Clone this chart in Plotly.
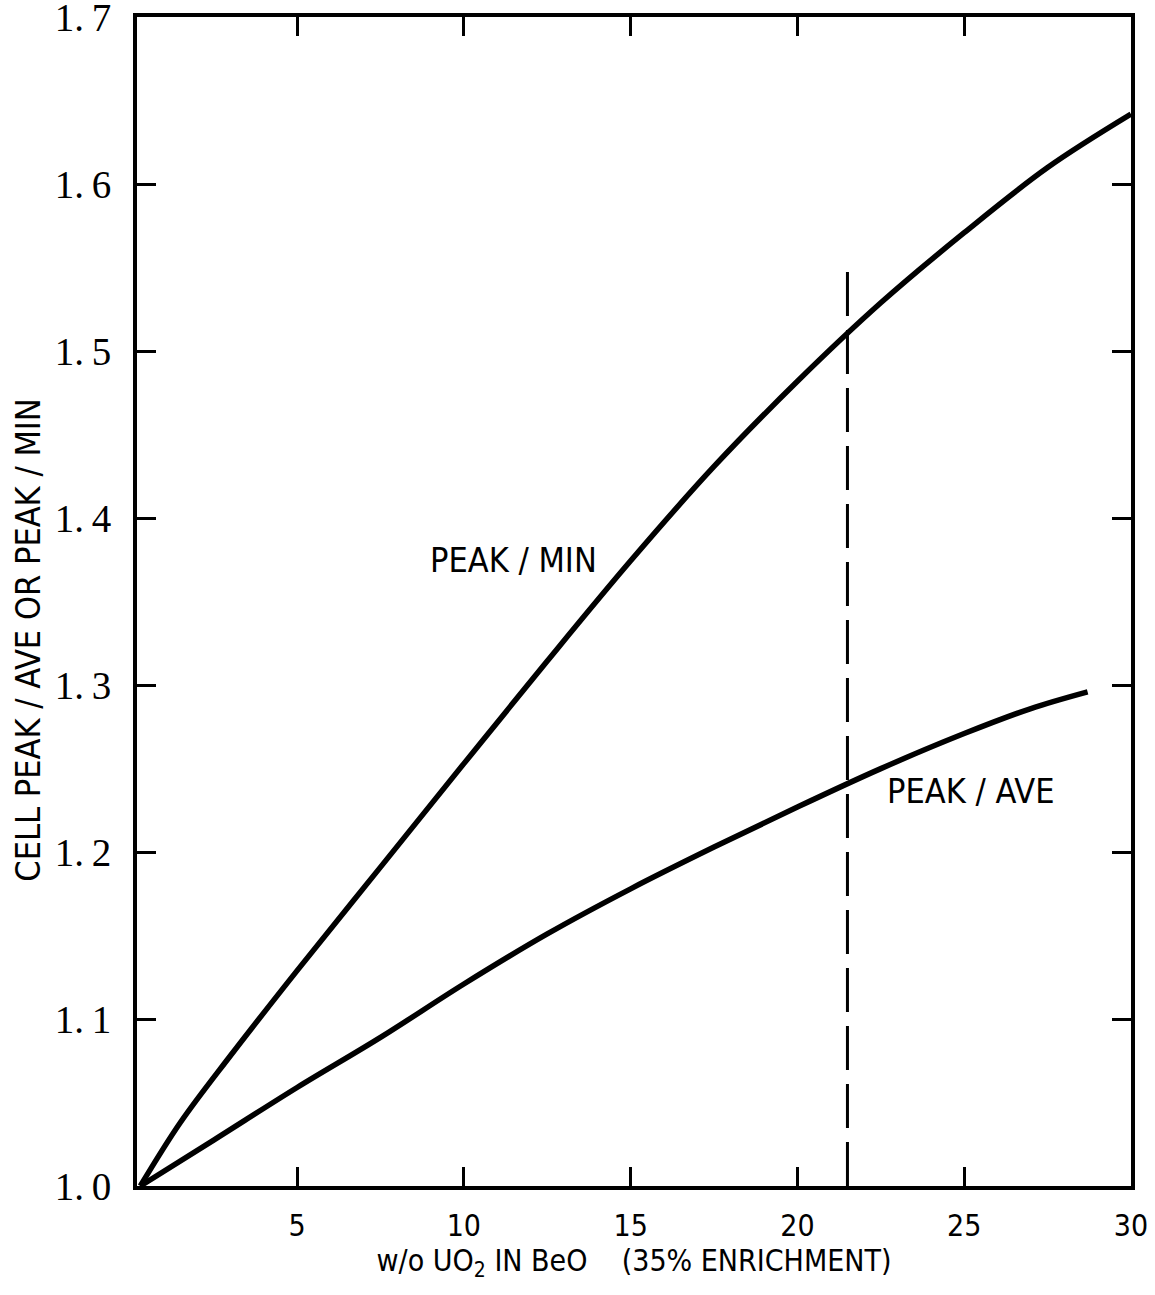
import plotly.graph_objects as go

# Cell power peaking vs UO2 loading in BeO (35% enrichment)
peak_min_x = [0.3, 1.5, 3.0, 5.0, 7.5, 10.0, 12.5, 15.0, 17.5, 20.0, 22.5, 25.0, 27.5, 30.0]
peak_min_y = [1.000, 1.038, 1.078, 1.129, 1.191, 1.253, 1.3145, 1.3745, 1.431, 1.482, 1.529, 1.571, 1.610, 1.642]

peak_ave_x = [0.3, 2.5, 5.0, 7.5, 10.0, 12.5, 15.0, 17.5, 20.0, 22.5, 25.0, 27.0, 28.7]
peak_ave_y = [1.000, 1.0275, 1.059, 1.089, 1.121, 1.151, 1.178, 1.203, 1.227, 1.250, 1.271, 1.286, 1.296]

# design loading marker
design_x = [21.5, 21.5]
design_y = [1.0, 1.55]

x_ticks = [5, 10, 15, 20, 25, 30]
y_ticks = [1.0, 1.1, 1.2, 1.3, 1.4, 1.5, 1.6, 1.7]
y_tick_text = ["1.\u20090", "1.\u20091", "1.\u20092", "1.\u20093",
               "1.\u20094", "1.\u20095", "1.\u20096", "1.\u20097"]

NARROW = "DejaVu Sans Condensed, Liberation Sans Narrow, Arial Narrow, sans-serif"
SERIF = "Liberation Serif, DejaVu Serif, serif"

fig = go.Figure()
fig.add_trace(go.Scatter(x=peak_min_x, y=peak_min_y, mode="lines",
                         line=dict(color="black", width=5.5, shape="spline", smoothing=1.0),
                         showlegend=False, hoverinfo="skip"))
fig.add_trace(go.Scatter(x=peak_ave_x, y=peak_ave_y, mode="lines",
                         line=dict(color="black", width=5.5, shape="spline", smoothing=1.0),
                         showlegend=False, hoverinfo="skip"))
fig.add_trace(go.Scatter(x=design_x, y=design_y, mode="lines",
                         line=dict(color="black", width=3, dash="44px,14px"),
                         showlegend=False, hoverinfo="skip"))

fig.add_annotation(x=11.5, y=1.375, text="PEAK / MIN", showarrow=False,
                   font=dict(family=NARROW, size=34, color="black"))
fig.add_annotation(x=25.2, y=1.2365, text="PEAK / AVE", showarrow=False,
                   font=dict(family=NARROW, size=34, color="black"))
fig.add_annotation(xref="paper", yref="paper", x=-0.110, y=0.467,
                   xanchor="center", yanchor="middle",
                   text="CELL PEAK / AVE OR PEAK / MIN", textangle=-90, showarrow=False,
                   font=dict(family=NARROW, size=34, color="black"))

fig.update_xaxes(range=[0.2, 30.001], tickvals=x_ticks, ticks="inside", ticklen=19, tickwidth=3,
                 tickcolor="black", showline=True, linecolor="black", linewidth=4,
                 mirror="ticks", showgrid=False, zeroline=False, ticklabelstandoff=10,
                 ticklabeloverflow="allow", automargin=False,
                 tickfont=dict(family=NARROW, size=30, color="black"),
                 title=dict(text="w/o UO<sub>2</sub> IN BeO\u00a0\u00a0\u00a0\u00a0(35% ENRICHMENT)",
                            font=dict(family=NARROW, size=30, color="black"), standoff=8))
fig.update_yaxes(range=[1.0, 1.7002], tickvals=y_ticks, ticktext=y_tick_text, ticks="inside",
                 ticklen=19, tickwidth=3, tickcolor="black", showline=True, linecolor="black",
                 linewidth=4, mirror="ticks", showgrid=False, zeroline=False,
                 ticklabelstandoff=14, ticklabeloverflow="allow", automargin=False,
                 tickfont=dict(family=SERIF, size=39, color="black"))

fig.update_layout(width=1155, height=1295, margin=dict(l=137, r=24, t=17, b=109),
                  plot_bgcolor="white", paper_bgcolor="white")

fig.write_html("out.html")
